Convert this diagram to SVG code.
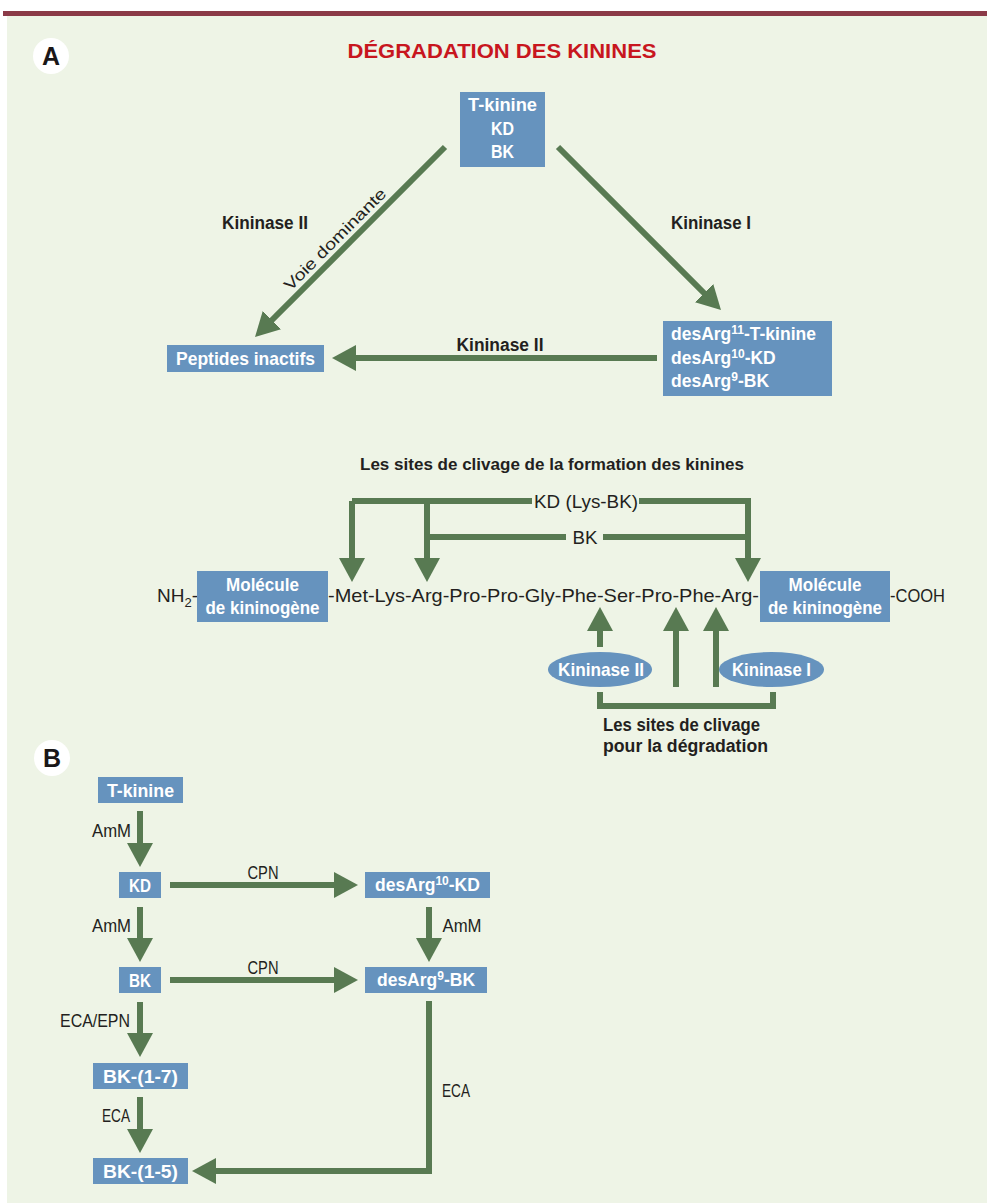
<svg xmlns="http://www.w3.org/2000/svg" width="987" height="1203" viewBox="0 0 987 1203">
<defs>
<style>
.box{fill:#6693be}
.bt{font-family:"Liberation Sans",Arial,sans-serif;font-weight:bold;fill:#ffffff;font-size:18.5px}
.ds{font-size:17.5px}
.lb{font-family:"Liberation Sans",Arial,sans-serif;font-weight:bold;fill:#231f20;font-size:18px}
.rg{font-family:"Liberation Sans",Arial,sans-serif;fill:#231f20;font-size:19px}
.mid{text-anchor:middle}
.ln{fill:none;stroke:#587a52;stroke-width:6;stroke-linejoin:miter;stroke-linecap:butt}
.ar{marker-end:url(#ah)}
.sup{font-size:12px}
</style>
<marker id="ah" markerUnits="userSpaceOnUse" markerWidth="26" markerHeight="26" refX="12" refY="13" orient="auto" viewBox="0 0 26 26">
<path d="M0,0 L24,13 L0,26 z" fill="#587a52"/>
</marker>
</defs>
<rect x="0" y="0" width="987" height="1203" fill="#ffffff"/>
<rect x="7" y="16" width="980" height="1187" fill="#eef4e6"/>
<rect x="3" y="11" width="984" height="5" fill="#8b3a47"/>

<g id="labelA">
<circle cx="51" cy="56" r="18" fill="#ffffff"/>
<text x="51" y="65" class="mid" style="font-family:'Liberation Sans',Arial,sans-serif;font-weight:bold;font-size:25px;fill:#1a1718">A</text>
</g>
<text x="502" y="58" class="mid" textLength="309" lengthAdjust="spacingAndGlyphs" style="font-family:'Liberation Sans',Arial,sans-serif;font-weight:bold;font-size:20px;fill:#c8161e">DÉGRADATION DES KININES</text>

<g id="connectors">
<path class="ln ar" d="M445,147 L263.5,328.5"/>
<path class="ln ar" d="M558,147 L712.5,301.5"/>
<path class="ln ar" d="M657,358 L344,358"/>
<path class="ln ar" d="M352,501 V570"/>
<path class="ln" d="M352,501 H532"/>
<path class="ln" d="M639,501 H748"/>
<path class="ln ar" d="M427,501 V570"/>
<path class="ln ar" d="M748,498 V570"/>
<path class="ln" d="M427,537 H566"/>
<path class="ln" d="M603,537 H748"/>
<path class="ln ar" d="M600,647 V619"/>
<path class="ln ar" d="M676,687 V619"/>
<path class="ln ar" d="M716,687 V619"/>
<path class="ln" d="M600,692 V706 H773 V692"/>
<path class="ln ar" d="M140,811 V855"/>
<path class="ln ar" d="M140,907 V950"/>
<path class="ln ar" d="M140,1002 V1045"/>
<path class="ln ar" d="M140,1097 V1141"/>
<path class="ln ar" d="M170,885 H346"/>
<path class="ln ar" d="M170,980 H346"/>
<path class="ln ar" d="M429,907 V950"/>
<path class="ln ar" d="M429,1001 V1171 H204"/>
</g>

<g id="edge-labels">
<text x="265" y="229" class="lb mid" textLength="86" lengthAdjust="spacingAndGlyphs">Kininase II</text>
<text x="711" y="229" class="lb mid" textLength="80" lengthAdjust="spacingAndGlyphs">Kininase I</text>
<text x="500" y="351" class="lb mid" textLength="87" lengthAdjust="spacingAndGlyphs">Kininase II</text>
<text transform="translate(339,243) rotate(-45)" class="rg mid" style="font-size:16px" textLength="137" lengthAdjust="spacingAndGlyphs">Voie dominante</text>
<text x="552" y="470" class="lb mid" style="font-size:17px" textLength="384" lengthAdjust="spacingAndGlyphs">Les sites de clivage de la formation des kinines</text>
<text x="586" y="508" class="rg mid" textLength="104" lengthAdjust="spacingAndGlyphs">KD (Lys-BK)</text>
<text x="585" y="544" class="rg mid" textLength="25" lengthAdjust="spacingAndGlyphs">BK</text>
<text x="603" y="731" class="lb" textLength="157" lengthAdjust="spacingAndGlyphs">Les sites de clivage</text>
<text x="603" y="752" class="lb" textLength="165" lengthAdjust="spacingAndGlyphs">pour la dégradation</text>
<text x="111.5" y="837" class="rg mid" textLength="39" lengthAdjust="spacingAndGlyphs">AmM</text>
<text x="111.5" y="932" class="rg mid" textLength="39" lengthAdjust="spacingAndGlyphs">AmM</text>
<text x="462" y="932" class="rg mid" textLength="39" lengthAdjust="spacingAndGlyphs">AmM</text>
<text x="263" y="879" class="rg mid" textLength="31" lengthAdjust="spacingAndGlyphs">CPN</text>
<text x="263" y="974" class="rg mid" textLength="31" lengthAdjust="spacingAndGlyphs">CPN</text>
<text x="95" y="1027" class="rg mid" textLength="70" lengthAdjust="spacingAndGlyphs">ECA/EPN</text>
<text x="116" y="1122" class="rg mid" textLength="28" lengthAdjust="spacingAndGlyphs">ECA</text>
<text x="456" y="1097" class="rg mid" textLength="28" lengthAdjust="spacingAndGlyphs">ECA</text>
</g>

<g id="n-kinines">
<rect class="box" x="460" y="92" width="85" height="75"/>
<text x="502.5" y="111" class="bt mid" textLength="69" lengthAdjust="spacingAndGlyphs">T-kinine</text>
<text x="502.5" y="135" class="bt mid" textLength="23" lengthAdjust="spacingAndGlyphs">KD</text>
<text x="502.5" y="158" class="bt mid" textLength="23" lengthAdjust="spacingAndGlyphs">BK</text>
</g>
<g id="n-peptides">
<rect class="box" x="167" y="345" width="157" height="27"/>
<text x="245.5" y="365" class="bt mid" textLength="139" lengthAdjust="spacingAndGlyphs">Peptides inactifs</text>
</g>
<g id="n-desarg">
<rect class="box" x="663" y="321" width="169" height="75"/>
<text x="671" y="340" class="bt ds">desArg<tspan class="sup" dy="-6">11</tspan><tspan dy="6">-T-kinine</tspan></text>
<text x="671" y="364" class="bt ds">desArg<tspan class="sup" dy="-6">10</tspan><tspan dy="6">-KD</tspan></text>
<text x="671" y="387" class="bt ds">desArg<tspan class="sup" dy="-6">9</tspan><tspan dy="6">-BK</tspan></text>
</g>

<g id="sequence">
<text x="157" y="602" class="rg">NH<tspan dy="5" style="font-size:13px">2</tspan><tspan dy="-5">-</tspan></text>
<text x="328" y="602" class="rg" textLength="431" lengthAdjust="spacingAndGlyphs">-Met-Lys-Arg-Pro-Pro-Gly-Phe-Ser-Pro-Phe-Arg-</text>
<text x="890" y="602" class="rg" textLength="55" lengthAdjust="spacingAndGlyphs">-COOH</text>
</g>
<g id="n-kininogene-left">
<rect class="box" x="197" y="571" width="131" height="51"/>
<text x="262.5" y="591" class="bt mid" textLength="73" lengthAdjust="spacingAndGlyphs">Molécule</text>
<text x="262.5" y="614" class="bt mid" textLength="114" lengthAdjust="spacingAndGlyphs">de kininogène</text>
</g>
<g id="n-kininogene-right">
<rect class="box" x="760" y="571" width="130" height="51"/>
<text x="825" y="591" class="bt mid" textLength="73" lengthAdjust="spacingAndGlyphs">Molécule</text>
<text x="825" y="614" class="bt mid" textLength="114" lengthAdjust="spacingAndGlyphs">de kininogène</text>
</g>
<g id="n-kininase2">
<ellipse class="box" cx="600" cy="669.5" rx="52" ry="17.5"/>
<text x="601" y="676" class="bt mid" textLength="86" lengthAdjust="spacingAndGlyphs">Kininase II</text>
</g>
<g id="n-kininase1">
<ellipse class="box" cx="771.5" cy="669.5" rx="52.5" ry="17.5"/>
<text x="771.5" y="676" class="bt mid" textLength="79" lengthAdjust="spacingAndGlyphs">Kininase I</text>
</g>

<g id="labelB">
<circle cx="52" cy="758" r="18" fill="#ffffff"/>
<text x="52" y="767" class="mid" style="font-family:'Liberation Sans',Arial,sans-serif;font-weight:bold;font-size:25px;fill:#1a1718">B</text>
</g>
<g id="b-tkinine">
<rect class="box" x="98" y="777" width="85" height="26"/>
<text x="140.5" y="797" class="bt mid" textLength="67" lengthAdjust="spacingAndGlyphs">T-kinine</text>
</g>
<g id="b-kd">
<rect class="box" x="119" y="872" width="42" height="26"/>
<text x="140" y="892" class="bt mid" textLength="22" lengthAdjust="spacingAndGlyphs">KD</text>
</g>
<g id="b-desarg10">
<rect class="box" x="365" y="872" width="125" height="26"/>
<text x="427.5" y="891" class="bt ds mid">desArg<tspan class="sup" dy="-6">10</tspan><tspan dy="6">-KD</tspan></text>
</g>
<g id="b-bk">
<rect class="box" x="119" y="967" width="42" height="26"/>
<text x="140" y="987" class="bt mid" textLength="22" lengthAdjust="spacingAndGlyphs">BK</text>
</g>
<g id="b-desarg9">
<rect class="box" x="365" y="967" width="122" height="26"/>
<text x="426" y="986" class="bt ds mid">desArg<tspan class="sup" dy="-6">9</tspan><tspan dy="6">-BK</tspan></text>
</g>
<g id="b-bk17">
<rect class="box" x="93" y="1063" width="95" height="26"/>
<text x="140.5" y="1083" class="bt mid" textLength="75" lengthAdjust="spacingAndGlyphs">BK-(1-7)</text>
</g>
<g id="b-bk15">
<rect class="box" x="93" y="1158" width="95" height="26"/>
<text x="140.5" y="1178" class="bt mid" textLength="75" lengthAdjust="spacingAndGlyphs">BK-(1-5)</text>
</g>
</svg>
